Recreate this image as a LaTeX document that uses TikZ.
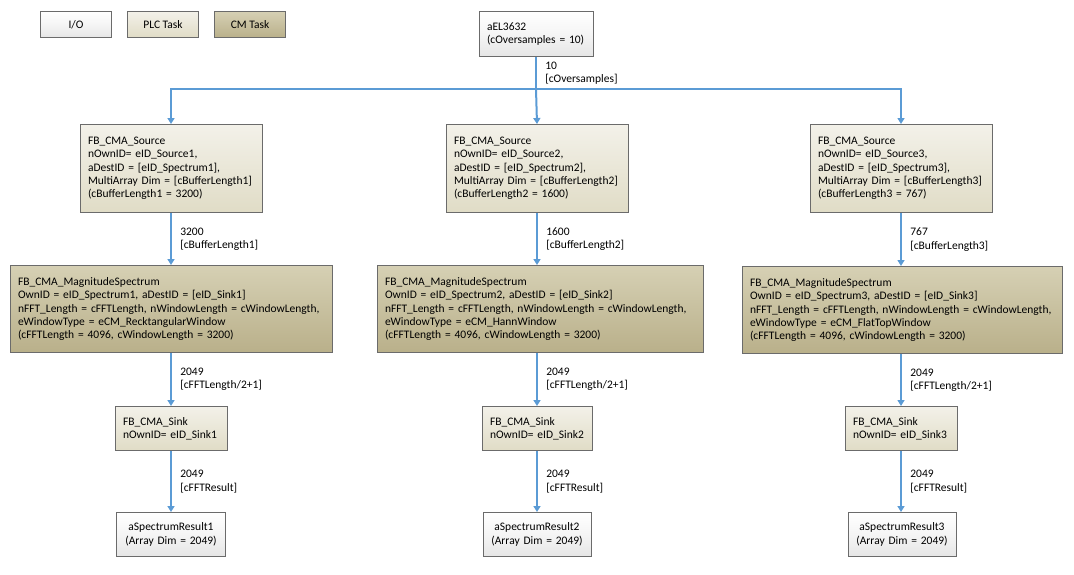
\documentclass[tikz,border=0pt]{standalone}
\usepackage{fontspec}
\setmainfont{Carlito}
\usetikzlibrary{positioning, arrows.meta}
\definecolor{edgegray}{HTML}{6B6B6B}
\definecolor{flowblue}{HTML}{5B9BD5}
\tikzset{
  % box looks
  blk/.style={draw=edgegray, line width=1pt, inner xsep=8pt, inner ysep=2pt,
    align=left, font=\fontsize{11.5}{13.3}\selectfont},
  iobox/.style={blk, top color=white, bottom color=black!10, middle color=black!4},
  plcbox/.style={blk, top color={rgb,255:red,243;green,241;blue,233}, bottom color={rgb,255:red,224;green,220;blue,198}},
  cmbox/.style={blk, top color={rgb,255:red,214;green,208;blue,180}, bottom color={rgb,255:red,185;green,176;blue,138}},
  flow/.style={draw=flowblue, line width=2pt, -{Triangle[length=6pt,width=7pt]}},
  lbl/.style={right=5pt, align=left, font=\fontsize{11.5}{13.3}\selectfont, text=black}
}

\begin{document}
\begin{tikzpicture}[x=1pt, y=-1pt]
  \useasboundingbox (0,0) rectangle (1074,574);

  % legend
  \node[iobox, anchor=north west, minimum width=71pt, minimum height=26pt, align=center] (legIO) at (40,11) {I/O};
  \node[plcbox, anchor=north west, minimum width=71pt, minimum height=26pt, align=center] (legPLC) at (127,11) {PLC Task};
  \node[cmbox, anchor=north west, minimum width=71pt, minimum height=26pt, align=center] (legCM) at (214,11) {CM Task};

  % input terminal
  \node[iobox, anchor=north, text width=98pt, minimum height=45pt] (el3632) at (536,11)
    {aEL3632\\(cOversamples = 10)};
  \coordinate (split) at (536,89);

  % sources
  \node[plcbox, anchor=north, text width=166pt, minimum height=88pt] (src1) at (171,124)
    {FB\_CMA\_Source\\nOwnID= eID\_Source1,\\aDestID = {[eID\_Spectrum1]},\\MultiArray Dim = {[cBufferLength1]}\\(cBufferLength1 = 3200)};
  \node[plcbox, anchor=north, text width=166pt, minimum height=88pt] (src2) at (537,124)
    {FB\_CMA\_Source\\nOwnID= eID\_Source2,\\aDestID = {[eID\_Spectrum2]},\\MultiArray Dim = {[cBufferLength2]}\\(cBufferLength2 = 1600)};
  \node[plcbox, anchor=north, text width=166pt, minimum height=88pt] (src3) at (901,124)
    {FB\_CMA\_Source\\nOwnID= eID\_Source3,\\aDestID = {[eID\_Spectrum3]},\\MultiArray Dim = {[cBufferLength3]}\\(cBufferLength3 = 767)};

  % spectra
  \node[cmbox, anchor=north, text width=306pt, minimum height=87pt] (spec1) at (171,265)
    {FB\_CMA\_MagnitudeSpectrum\\OwnID = eID\_Spectrum1, aDestID = {[eID\_Sink1]}\\nFFT\_Length = cFFTLength, nWindowLength = cWindowLength,\\eWindowType = eCM\_RecktangularWindow\\(cFFTLength = 4096, cWindowLength = 3200)};
  \node[cmbox, anchor=north, text width=310pt, minimum height=87pt] (spec2) at (540,265)
    {FB\_CMA\_MagnitudeSpectrum\\OwnID = eID\_Spectrum2, aDestID = {[eID\_Sink2]}\\nFFT\_Length = cFFTLength, nWindowLength = cWindowLength,\\eWindowType = eCM\_HannWindow\\(cFFTLength = 4096, cWindowLength = 3200)};
  \node[cmbox, anchor=north, text width=304pt, minimum height=87pt] (spec3) at (902,266)
    {FB\_CMA\_MagnitudeSpectrum\\OwnID = eID\_Spectrum3, aDestID = {[eID\_Sink3]}\\nFFT\_Length = cFFTLength, nWindowLength = cWindowLength,\\eWindowType = eCM\_FlatTopWindow\\(cFFTLength = 4096, cWindowLength = 3200)};

  % sinks
  \node[plcbox, anchor=north, text width=96pt, minimum height=44pt] (sink1) at (171,406)
    {FB\_CMA\_Sink\\nOwnID= eID\_Sink1};
  \node[plcbox, anchor=north, text width=94pt, minimum height=44pt] (sink2) at (537,406)
    {FB\_CMA\_Sink\\nOwnID= eID\_Sink2};
  \node[plcbox, anchor=north, text width=96pt, minimum height=44pt] (sink3) at (901,406)
    {FB\_CMA\_Sink\\nOwnID= eID\_Sink3};

  % results
  \node[iobox, anchor=north, text width=93pt, minimum height=44pt, align=center] (res1) at (171,512)
    {aSpectrumResult1\\(Array Dim = 2049)};
  \node[iobox, anchor=north, text width=92pt, minimum height=44pt, align=center] (res2) at (537,512)
    {aSpectrumResult2\\(Array Dim = 2049)};
  \node[iobox, anchor=north, text width=92pt, minimum height=44pt, align=center] (res3) at (902,512)
    {aSpectrumResult3\\(Array Dim = 2049)};

  % connectors
  \draw[flow, -] (el3632.south) -- node[lbl] {10\\{[cOversamples]}} (split);
  \draw[flow] (split) -| (src1.north);
  \draw[flow] (split) -- (src2.north);
  \draw[flow] (split) -| (src3.north);

  \draw[flow] (src1) -- node[lbl] {3200\\{[cBufferLength1]}} (spec1);
  \draw[flow] (src2) -- node[lbl] {1600\\{[cBufferLength2]}} (src2 |- spec2.north);
  \draw[flow] (src3) -- node[lbl] {767\\{[cBufferLength3]}} (src3 |- spec3.north);

  \draw[flow] (spec1) -- node[lbl] {2049\\{[cFFTLength/2+1]}} (sink1);
  \draw[flow] (spec2.south -| sink2) -- node[lbl] {2049\\{[cFFTLength/2+1]}} (sink2);
  \draw[flow] (spec3.south -| sink3) -- node[lbl] {2049\\{[cFFTLength/2+1]}} (sink3);

  \draw[flow] (sink1) -- node[lbl] {2049\\{[cFFTResult]}} (sink1 |- res1.north);
  \draw[flow] (sink2) -- node[lbl] {2049\\{[cFFTResult]}} (sink2 |- res2.north);
  \draw[flow] (sink3) -- node[lbl] {2049\\{[cFFTResult]}} (sink3 |- res3.north);
\end{tikzpicture}
\end{document}
